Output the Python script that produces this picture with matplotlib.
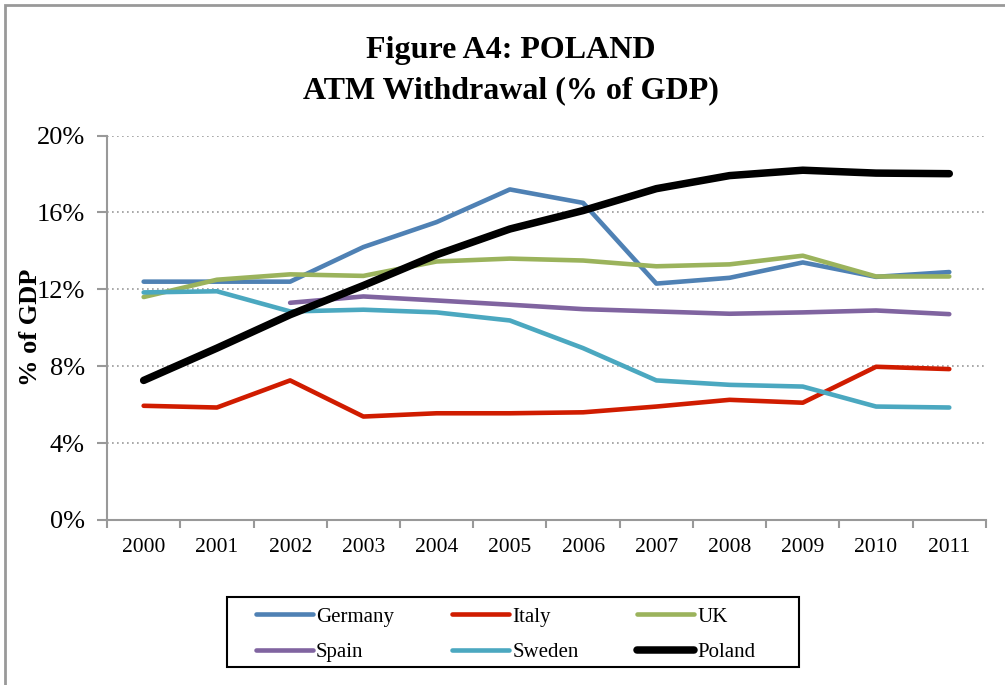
import numpy as np
import matplotlib.pyplot as plt
from matplotlib.patches import Rectangle

plt.rcParams['font.family'] = ['Liberation Serif', 'DejaVu Serif']

years = ['2000', '2001', '2002', '2003', '2004', '2005',
         '2006', '2007', '2008', '2009', '2010', '2011']

germany = [12.4, 12.4, 12.4, 14.2, 15.5, 17.2, 16.5, 12.3, 12.6, 13.4, 12.65, 12.9]
italy = [5.94, 5.85, 7.26, 5.38, 5.55, 5.55, 5.6, 5.9, 6.25, 6.1, 7.97, 7.85]
uk = [11.6, 12.5, 12.78, 12.7, 13.45, 13.6, 13.5, 13.2, 13.3, 13.75, 12.67, 12.67]
spain = [np.nan, np.nan, 11.3, 11.63, 11.42, 11.2, 10.97, 10.85, 10.73, 10.8, 10.9, 10.71]
sweden = [11.84, 11.9, 10.85, 10.94, 10.8, 10.38, 8.94, 7.26, 7.03, 6.94, 5.9, 5.85]
poland = [7.26, 8.94, 10.68, 12.2, 13.8, 15.14, 16.1, 17.24, 17.92, 18.2, 18.05, 18.02]

series = [
    ('Germany', germany, '#4f81b4', 3.3),
    ('Italy', italy, '#d01c00', 3.3),
    ('UK', uk, '#9bb35c', 3.3),
    ('Spain', spain, '#8064a0', 3.3),
    ('Sweden', sweden, '#4ba8c0', 3.3),
    ('Poland', poland, '#000000', 5.4),
]

fig = plt.figure(figsize=(10.05, 6.85), dpi=100)
ax = fig.add_axes([0.1065, 0.241, 0.8745, 0.561])

x = np.arange(len(years))
handles = []
for name, vals, col, lw in series:
    h, = ax.plot(x, vals, color=col, lw=lw, solid_capstyle='round',
                 solid_joinstyle='round', label=name)
    handles.append(h)

ax.set_xlim(-0.5, len(years) - 0.5)
ax.set_ylim(0, 20)
ax.set_yticks(np.arange(0, 21, 4))
ax.set_yticklabels([f'{v}%' for v in range(0, 21, 4)], fontsize=19)
ax.set_xticks(x)
ax.set_xticklabels(years, fontsize=15.5)
ax.set_xticks(np.arange(-0.5, len(years), 1), minor=True)
ax.tick_params(axis='x', which='major', length=0, pad=13)
ax.tick_params(axis='x', which='minor', length=6, color='#999999', width=1.5)
ax.tick_params(axis='y', length=7, color='#999999', width=1.5, pad=9)

ax.yaxis.grid(True, linestyle=(0, (1, 2)), color='#999999', lw=1.2)
ax.set_axisbelow(True)
for s in ['top', 'right']:
    ax.spines[s].set_visible(False)
for s in ['left', 'bottom']:
    ax.spines[s].set_color('#999999')
    ax.spines[s].set_linewidth(1.5)

ax.set_ylabel('% of GDP', fontsize=19, fontweight='bold')
ax.yaxis.set_label_coords(-0.074, 0.5)

fig.text(0.508, 0.926, 'Figure A4: POLAND', ha='center', va='center',
         fontsize=23, fontweight='bold')
fig.text(0.508, 0.867, 'ATM Withdrawal (% of GDP)', ha='center', va='center',
         fontsize=23, fontweight='bold')

# legend is filled column by column, so reorder to read row-wise
order = [0, 3, 1, 4, 2, 5]
leg = fig.legend(handles=[handles[i] for i in order], ncol=3, loc='center',
                 bbox_to_anchor=(0.503, 0.0737), fontsize=15,
                 frameon=False,
                 handlelength=2.74, handletextpad=0.15, columnspacing=2.8,
                 labelspacing=0.75, borderpad=0.2, borderaxespad=0)
for lh in leg.get_lines():
    lh.set_solid_capstyle('round')

# legend frame, wider than the entries as in the original
fig.patches.append(Rectangle((227 / 1005, 1 - 667 / 685), 572 / 1005, 70 / 685,
                             transform=fig.transFigure, fill=False,
                             edgecolor='black', lw=1.5))

# outer chart border
fig.patches.append(Rectangle((0.005, -0.1), 1.2, 1.093, transform=fig.transFigure,
                             fill=False, edgecolor='#999999', lw=2))

fig.savefig('out.png', dpi=100)
